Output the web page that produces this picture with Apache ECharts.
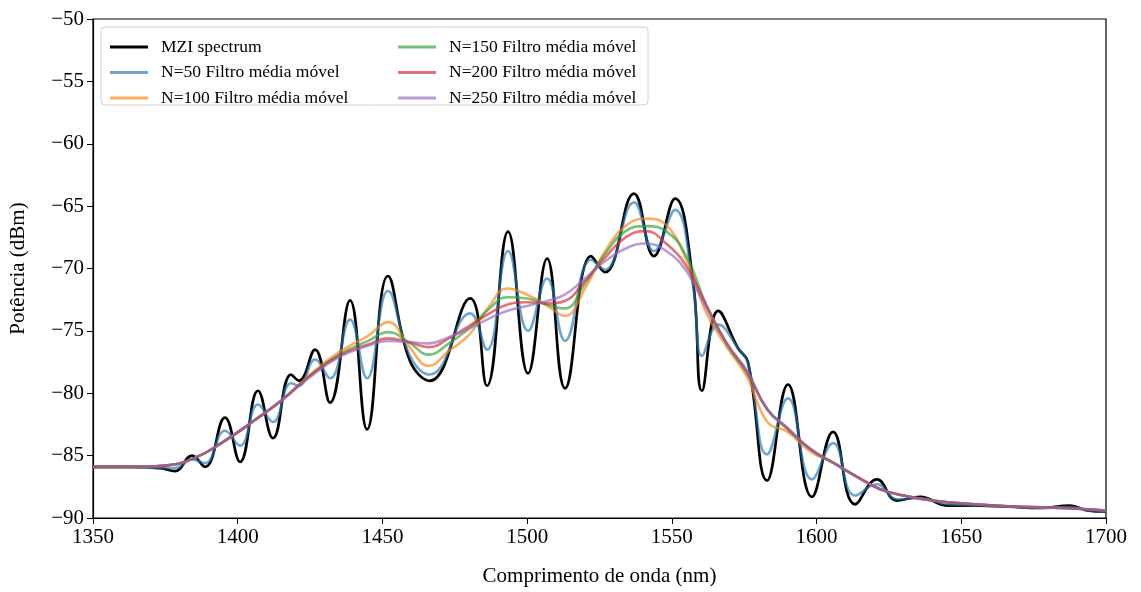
<!DOCTYPE html>
<html>
<head>
<meta charset="utf-8">
<script src="https://cdn.jsdelivr.net/npm/echarts@6/dist/echarts.min.js"></script>
<style>
  html, body { margin: 0; padding: 0; background: #fff; }
  #chart { width: 1141px; height: 592px; }
</style>
</head>
<body>
<div id="chart"></div>
<script>
// wavelength positions (nm) for raw spectrum + N=50 (peaks / troughs)
const wlFine = [1350, 1362.8, 1373.2, 1378.3, 1384.2, 1388.7, 1395.6, 1400.8, 1407.0, 1412.2,
  1418.4, 1421.2, 1426.7, 1431.9, 1438.8, 1444.7, 1451.9, 1459.5, 1466.4, 1480.3,
  1486.1, 1493.4, 1500.3, 1506.9, 1513.1, 1522.1, 1526.9, 1536.9, 1543.8, 1551.1,
  1557.3, 1560.4, 1566.0, 1572.9, 1576.3, 1582.9, 1590.1, 1598.4, 1605.7, 1613.3,
  1620.9, 1627.8, 1635.8, 1645.1, 1656.5, 1666.9, 1677.2, 1687.6, 1693.5, 1700];

const mzi = [-85.9, -85.9, -86.0, -86.25, -85.0, -85.9, -81.95, -85.5, -79.8, -83.6,
  -78.5, -79.0, -76.5, -80.75, -72.55, -82.9, -70.6, -77.4, -79.0, -72.4,
  -79.4, -67.05, -78.4, -69.2, -79.6, -69.0, -70.3, -64.0, -69.0, -64.4,
  -71.0, -79.8, -73.4, -76.4, -77.5, -87.0, -79.3, -88.3, -83.1, -88.9,
  -86.9, -88.6, -88.3, -89.0, -89.0, -89.1, -89.2, -89.0, -89.4, -89.5];

const n50 = [-85.9, -85.9, -86.0, -86.0, -85.3, -85.6, -83.0, -84.2, -80.9, -82.3,
  -79.2, -79.4, -77.3, -78.8, -74.1, -78.8, -71.8, -77.0, -78.5, -73.6,
  -76.5, -68.6, -75.0, -70.8, -75.8, -69.3, -70.1, -64.7, -68.6, -65.3,
  -71.3, -77.0, -74.5, -76.4, -77.6, -84.9, -80.4, -86.9, -84.0, -88.2,
  -87.3, -88.5, -88.4, -88.9, -89.0, -89.1, -89.2, -89.1, -89.4, -89.5];

// wavelength positions for the smoother filters
const wlSmooth = [1350, 1365, 1375, 1385, 1395, 1405, 1415, 1425, 1435, 1445,
  1452, 1459, 1466, 1473, 1480, 1487, 1493, 1500, 1507, 1513,
  1520, 1527, 1534, 1541, 1548, 1555, 1562, 1569, 1576, 1583,
  1590, 1598, 1606, 1614, 1622, 1630, 1640, 1655, 1670, 1685, 1700];

const n100 = [-85.9, -85.9, -85.8, -85.2, -83.9, -82.3, -80.6, -78.5, -76.7, -75.4,
  -74.3, -76.2, -77.8, -76.6, -75.3, -73.0, -71.6, -72.1, -73.0, -73.8,
  -71.6, -68.6, -66.6, -66.0, -66.5, -69.3, -73.6, -76.3, -78.7, -82.3,
  -83.1, -84.7, -85.6, -86.7, -87.7, -88.2, -88.6, -88.9, -89.1, -89.2, -89.4];

const n150 = [-85.9, -85.9, -85.8, -85.2, -83.9, -82.3, -80.6, -78.6, -76.9, -75.8,
  -75.1, -75.9, -76.9, -76.0, -74.8, -73.2, -72.3, -72.4, -72.9, -73.2,
  -71.2, -68.8, -67.0, -66.6, -67.0, -69.0, -73.0, -76.1, -78.4, -81.3,
  -82.9, -84.5, -85.6, -86.7, -87.7, -88.2, -88.6, -88.9, -89.1, -89.2, -89.4];

const n200 = [-85.9, -85.9, -85.8, -85.2, -83.9, -82.3, -80.6, -78.6, -77.0, -76.1,
  -75.6, -75.9, -76.3, -75.6, -74.6, -73.6, -72.9, -72.7, -72.8, -72.6,
  -71.0, -69.1, -67.5, -67.0, -68.0, -69.8, -73.0, -76.0, -78.3, -81.3,
  -82.8, -84.5, -85.6, -86.7, -87.7, -88.2, -88.6, -88.9, -89.1, -89.2, -89.4];

const n250 = [-85.9, -85.9, -85.8, -85.2, -83.9, -82.3, -80.6, -78.7, -77.1, -76.2,
  -75.8, -75.9, -76.0, -75.5, -74.8, -74.0, -73.4, -73.0, -72.6, -72.1,
  -70.8, -69.4, -68.4, -68.0, -68.6, -70.2, -73.2, -76.0, -78.2, -81.3,
  -82.8, -84.5, -85.6, -86.7, -87.7, -88.2, -88.6, -88.9, -89.1, -89.2, -89.4];

const names = ['MZI spectrum', 'N=50 Filtro média móvel', 'N=100 Filtro média móvel',
  'N=150 Filtro média móvel', 'N=200 Filtro média móvel', 'N=250 Filtro média móvel'];
const colors = ['#000000', 'rgba(31,119,180,0.65)', 'rgba(255,127,14,0.65)',
  'rgba(44,160,44,0.65)', 'rgba(214,39,40,0.65)', 'rgba(148,103,189,0.65)'];

const FONT = 'Liberation Serif';

const pair = (xs, ys) => xs.map((x, i) => [x, ys[i]]);
const seriesData = [
  pair(wlFine, mzi), pair(wlFine, n50), pair(wlSmooth, n100),
  pair(wlSmooth, n150), pair(wlSmooth, n200), pair(wlSmooth, n250)
];

const chart = echarts.init(document.getElementById('chart'), null, { renderer: 'canvas' });

const minus = v => (v < 0 ? '\u2212' + Math.abs(v) : String(v));

const legendBase = {
  orient: 'vertical',
  top: 33,
  itemWidth: 38,
  itemHeight: 3,
  itemGap: 7.5,
  icon: 'rect',
  textStyle: { fontFamily: FONT, fontSize: 17.5, color: '#000', lineHeight: 18, padding: [0, 0, 0, 8] }
};

chart.setOption({
  animation: false,
  backgroundColor: '#fff',
  grid: { left: 93, right: 35, top: 19, bottom: 71, show: true, borderColor: '#000', borderWidth: 1.2 },
  graphic: [{
    type: 'rect', z: 3,
    shape: { x: 101, y: 27, width: 547, height: 78, r: 4 },
    style: { fill: 'rgba(255,255,255,0.85)', stroke: '#d0d0d0', lineWidth: 1 }
  }],
  legend: [
    Object.assign({}, legendBase, { left: 105, data: names.slice(0, 3) }),
    Object.assign({}, legendBase, { left: 393, data: names.slice(3) })
  ],
  xAxis: {
    type: 'value', min: 1350, max: 1700, interval: 50,
    name: 'Comprimento de onda (nm)', nameLocation: 'middle', nameGap: 48,
    nameTextStyle: { fontFamily: FONT, fontSize: 21, color: '#000' },
    axisLine: { lineStyle: { color: '#000', width: 1.2 } },
    axisTick: { length: 6, lineStyle: { color: '#000' } },
    axisLabel: { fontFamily: FONT, fontSize: 21, color: '#000', margin: 9, formatter: v => String(v) },
    splitLine: { show: false }
  },
  yAxis: {
    type: 'value', min: -90, max: -50, interval: 5,
    name: 'Potência (dBm)', nameLocation: 'middle', nameGap: 64,
    nameTextStyle: { fontFamily: FONT, fontSize: 21, color: '#000' },
    axisLine: { show: true, lineStyle: { color: '#000', width: 1.2 } },
    axisTick: { show: true, length: 6, lineStyle: { color: '#000' } },
    axisLabel: { fontFamily: FONT, fontSize: 21, color: '#000', margin: 9, formatter: minus },
    splitLine: { show: false }
  },
  series: names.map((name, i) => ({
    name: name,
    type: 'line',
    data: seriesData[i],
    smooth: 0.45,
    symbol: 'none',
    color: colors[i],
    itemStyle: { color: colors[i] },
    lineStyle: { color: colors[i], width: i === 0 ? 2.7 : 2.6 },
    z: 2 + i
  }))
});
</script>
</body>
</html>
